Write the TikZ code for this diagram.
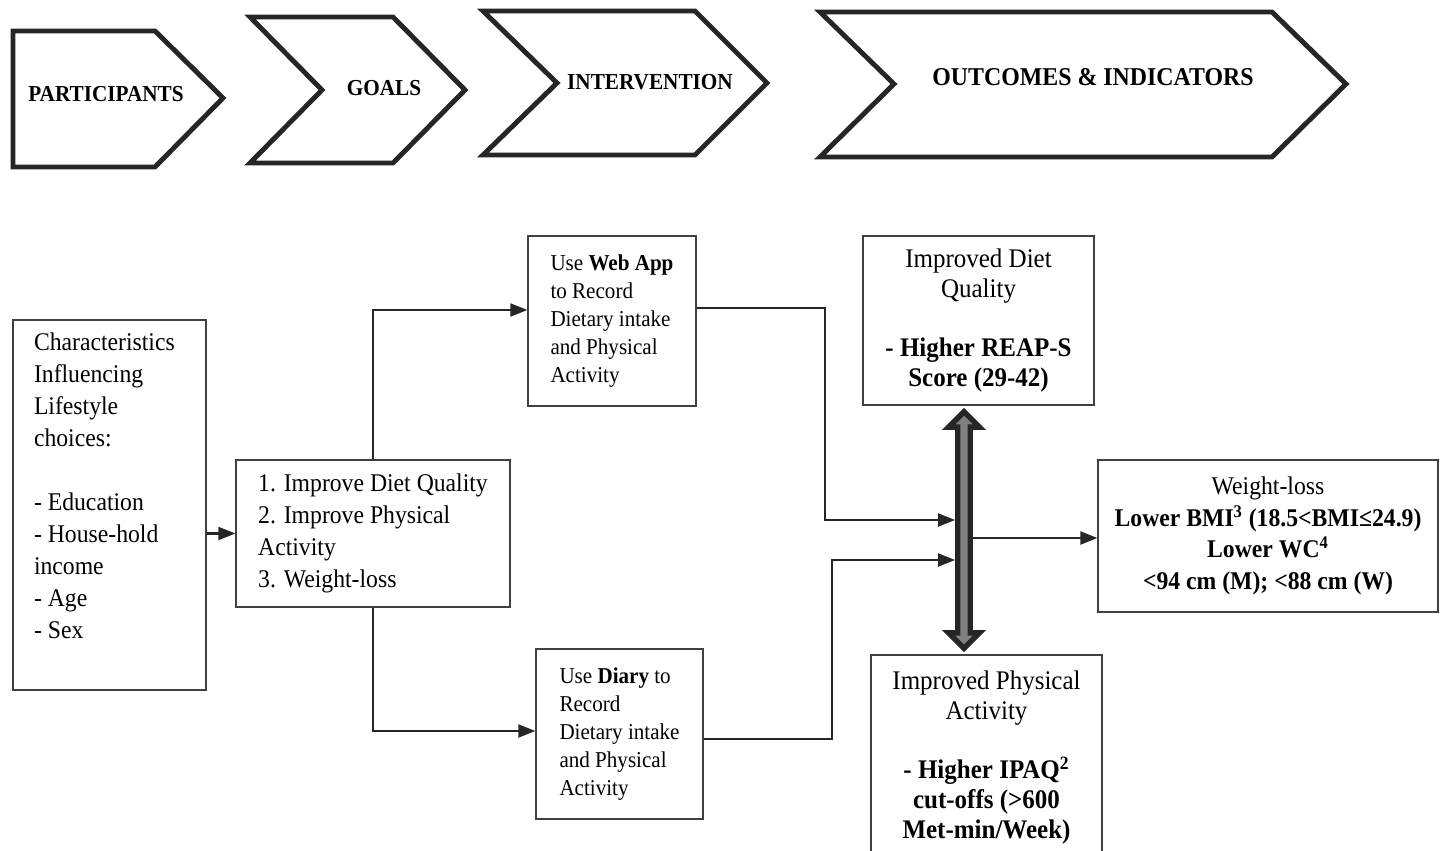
\documentclass[tikz,border=0pt]{standalone}
\usepackage{fontspec}
\setmainfont{Liberation Serif}[FakeStretch=0.93]
\usetikzlibrary{arrows.meta,calc}
\definecolor{edge}{HTML}{262626}
\definecolor{boxline}{HTML}{404040}
\definecolor{barfill}{HTML}{808080}

\begin{document}
\begin{tikzpicture}[x=0.02cm,y=-0.02cm,
  phase/.style={draw=edge,line width=2.8pt,line join=miter},
  head/.style={font=\fontsize{13}{15}\selectfont\bfseries},
  box/.style={draw=boxline,line width=0.75pt,fill=white,font=\fontsize{14.5}{18.2}\selectfont},
  smallbox/.style={box,align=flush left,font=\fontsize{12.9}{15.9}\selectfont},
  goalbox/.style={box,font=\fontsize{15.3}{17}\selectfont,align=center,inner sep=0pt},
  link/.style={draw=edge,line width=1.2pt,-{Triangle[length=0.34cm,width=0.26cm]}},
  bar/.style={draw=edge,fill=barfill,line width=3.1pt,line join=miter}]
\useasboundingbox (0,0) rectangle (1440,851);
\draw[phase] (13,31) -- (155,31) -- (223,98) -- (155,167) -- (13,167) -- cycle;
\draw[phase] (250,17) -- (393,17) -- (465,90) -- (393,163) -- (250,163) -- (322,90) -- cycle;
\draw[phase] (483,11) -- (695,11) -- (767,83) -- (695,155) -- (483,155) -- (557,83) -- cycle;
\draw[phase] (820,12) -- (1272,12) -- (1346,84) -- (1272,157) -- (820,157) -- (894,84) -- cycle;
\node[head] (participants) at (106,94) {PARTICIPANTS};
\node[head] (goalshead) at (384,88) {GOALS};
\node[head] (intervention) at (650,82) {INTERVENTION};
\node[head,font=\fontsize{14.6}{16}\selectfont\bfseries] (outcomes) at (1093,77) {OUTCOMES \& INDICATORS};

\node[box,inner xsep=0.42cm,inner ysep=0.25cm] (char) at (109.5,505)
  {\parbox[c][6.9cm][t]{3.02cm}{Characteristics\\ Influencing\\ Lifestyle\\ choices:\\[18.2pt]
   - Education\\ - House-hold\\ income\\ - Age\\ - Sex}};
\node[box,align=flush left,minimum width=5.48cm,minimum height=2.94cm] (goals) at (373,533.5)
  {1. Improve Diet Quality\\ 2. Improve Physical\\ Activity\\ 3. Weight-loss};
\node[smallbox,minimum width=3.36cm,minimum height=3.4cm] (webapp) at (612,321)
  {Use \textbf{Web App}\\ to Record\\ Dietary intake\\ and Physical\\ Activity};
\node[smallbox,minimum width=3.34cm,minimum height=3.4cm] (diary) at (619.5,734)
  {Use \textbf{Diary} to\\ Record\\ Dietary intake\\ and Physical\\ Activity};
\node[goalbox,minimum width=4.62cm,minimum height=3.38cm] (diet) at (978.5,320.5)
  {Improved Diet\\ Quality\\[17pt] \textbf{- Higher REAP-S}\\ \textbf{Score (29-42)}};
\node[goalbox,minimum width=4.62cm,minimum height=4.1cm] (phys) at (986.5,757.5)
  {Improved Physical\\ Activity\\[17pt] \textbf{- Higher IPAQ\textsuperscript{2}}\\ \textbf{cut-offs (>600}\\ \textbf{Met-min/Week)}};
\node[box,align=center,inner sep=0pt,minimum width=6.8cm,minimum height=3.04cm,font=\fontsize{14.5}{17.9}\selectfont] (weight) at (1268,536)
  {Weight-loss\\ \textbf{Lower BMI\textsuperscript{3} (18.5<BMI≤24.9)}\\ \textbf{Lower WC\textsuperscript{4}}\\ \textbf{<94 cm (M); <88 cm (W)}};

\coordinate (bartop) at (diet.south -| 964,0);
\coordinate (barbot) at (phys.north -| 964,0);
\coordinate (inA) at (955,520);
\coordinate (inB) at (955,560);
\coordinate (outW) at (973,538);
\draw[bar] ($(bartop)+(0,6)$) -- ++(15.5,15.5) -- ++(-9.25,0) -- ($(barbot)+(6.25,-21.5)$) -- ++(9.25,0)
  -- ($(barbot)+(0,-6)$) -- ++(-15.5,-15.5) -- ++(9.25,0) -- ($(bartop)+(-6.25,21.5)$) -- ++(-9.25,0) -- cycle;

\draw[link] (char.east |- goals.west) -- (goals.west);
\draw[link] (goals.north) |- ([yshift=0.22cm]webapp.west);
\draw[link] (goals.south) |- ([yshift=0.06cm]diary.west);
\draw[link] ([yshift=0.26cm]webapp.east) -| ($(inA)+(-130,0)$) -- (inA);
\draw[link] ([yshift=-0.1cm]diary.east) -| ($(inB)+(-123,0)$) -- (inB);
\draw[link] (outW) -- (outW -| weight.west);
\end{tikzpicture}
\end{document}
